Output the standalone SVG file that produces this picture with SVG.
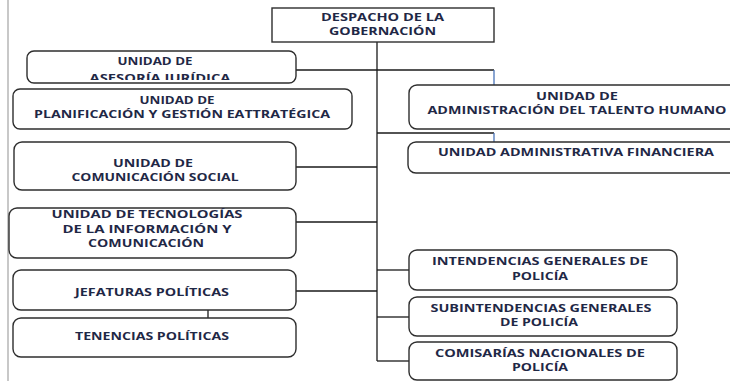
<svg xmlns="http://www.w3.org/2000/svg" width="730" height="381" viewBox="0 0 730 381">
<style>
.box{fill:#fff;stroke:#2e2e2e;stroke-width:1.4}
.t{font-family:"Open Sans","Liberation Sans",sans-serif;font-weight:bold;font-size:10px;fill:#1f2846;text-anchor:middle}
.c{stroke:#1a1a1a;stroke-width:1.3;fill:none}
.b{stroke:#4a74b8;stroke-width:1.3;fill:none}
</style>
<defs>
<clipPath id="clipAses"><rect x="27" y="51" width="269" height="29"/></clipPath>
</defs>
<rect x="0" y="0" width="730" height="381" fill="#fff"/>
<line x1="8" y1="0" x2="8" y2="381" stroke="#c8c8c8" stroke-width="2"/>
<g id="connectors">
<line class="c" x1="377" y1="42" x2="377" y2="361"/>
<polyline class="c" points="296,70 494,70"/>
<line class="b" x1="494" y1="70" x2="494" y2="85"/>
<polyline class="c" points="377,133 494,133"/>
<line class="b" x1="494" y1="133" x2="494" y2="142"/>
<line class="c" x1="296" y1="167" x2="377" y2="167"/>
<line class="c" x1="296" y1="222" x2="377" y2="222"/>
<line class="c" x1="296" y1="291" x2="377" y2="291"/>
<line class="c" x1="377" y1="270" x2="409" y2="270"/>
<line class="c" x1="377" y1="317" x2="409" y2="317"/>
<line class="c" x1="377" y1="361" x2="409" y2="361"/>
<line class="c" x1="208" y1="310" x2="208" y2="318"/>
</g>
<g id="despacho">
<rect class="box" x="272" y="8" width="222" height="34"/>
<text class="t" x="382.5" y="21" textLength="123" lengthAdjust="spacingAndGlyphs">DESPACHO DE LA</text>
<text class="t" x="382.5" y="35" textLength="107" lengthAdjust="spacingAndGlyphs">GOBERNACIÓN</text>
</g>
<g id="asesoria">
<rect class="box" x="27" y="51" width="269" height="32" rx="7"/>
<text class="t" x="155" y="65" textLength="75" lengthAdjust="spacingAndGlyphs">UNIDAD DE</text>
<text class="t" x="160" y="82" textLength="141" lengthAdjust="spacingAndGlyphs" clip-path="url(#clipAses)">ASESORÍA  JURÍDICA</text>
</g>
<g id="planificacion">
<rect class="box" x="13" y="89" width="339" height="40" rx="7"/>
<text class="t" x="177" y="104" textLength="75" lengthAdjust="spacingAndGlyphs">UNIDAD DE</text>
<text class="t" x="182" y="118" textLength="296" lengthAdjust="spacingAndGlyphs">PLANIFICACIÓN Y GESTIÓN  EATTRATÉGICA</text>
</g>
<g id="comunicacion">
<rect class="box" x="14" y="142" width="282" height="48" rx="8"/>
<text class="t" x="153" y="167" textLength="80" lengthAdjust="spacingAndGlyphs">UNIDAD DE</text>
<text class="t" x="155" y="181" textLength="167" lengthAdjust="spacingAndGlyphs">COMUNICACIÓN SOCIAL</text>
</g>
<g id="tecnologias">
<rect class="box" x="9" y="208" width="287" height="50" rx="8"/>
<text class="t" x="147" y="218" textLength="191" lengthAdjust="spacingAndGlyphs">UNIDAD DE  TECNOLOGÍAS</text>
<text class="t" x="147" y="233" textLength="169" lengthAdjust="spacingAndGlyphs">DE LA INFORMACIÓN Y</text>
<text class="t" x="146" y="247" textLength="116" lengthAdjust="spacingAndGlyphs">COMUNICACIÓN</text>
</g>
<g id="jefaturas">
<rect class="box" x="13" y="270" width="283" height="40" rx="8"/>
<text class="t" x="152" y="296" textLength="154" lengthAdjust="spacingAndGlyphs">JEFATURAS  POLÍTICAS</text>
</g>
<g id="tenencias">
<rect class="box" x="13" y="318" width="283" height="39" rx="8"/>
<text class="t" x="152" y="340" textLength="154" lengthAdjust="spacingAndGlyphs">TENENCIAS  POLÍTICAS</text>
</g>
<g id="talento">
<rect class="box" x="409" y="85" width="360" height="44" rx="8"/>
<text class="t" x="577" y="100" textLength="82" lengthAdjust="spacingAndGlyphs">UNIDAD DE</text>
<text class="t" x="577" y="114" textLength="299" lengthAdjust="spacingAndGlyphs">ADMINISTRACIÓN  DEL TALENTO  HUMANO</text>
</g>
<g id="financiera">
<rect class="box" x="408" y="142" width="360" height="31" rx="8"/>
<text class="t" x="576" y="156" textLength="276" lengthAdjust="spacingAndGlyphs">UNIDAD ADMINISTRATIVA  FINANCIERA</text>
</g>
<g id="intendencias">
<rect class="box" x="409" y="250" width="268" height="40" rx="8"/>
<text class="t" x="540" y="265" textLength="216" lengthAdjust="spacingAndGlyphs">INTENDENCIAS  GENERALES  DE</text>
<text class="t" x="540" y="280" textLength="56" lengthAdjust="spacingAndGlyphs">POLICÍA</text>
</g>
<g id="subintendencias">
<rect class="box" x="409" y="297" width="268" height="39" rx="8"/>
<text class="t" x="541" y="312" textLength="221" lengthAdjust="spacingAndGlyphs">SUBINTENDENCIAS  GENERALES</text>
<text class="t" x="539" y="326" textLength="78" lengthAdjust="spacingAndGlyphs">DE POLICÍA</text>
</g>
<g id="comisarias">
<rect class="box" x="409" y="342" width="268" height="38" rx="8"/>
<text class="t" x="540" y="357" textLength="210" lengthAdjust="spacingAndGlyphs">COMISARÍAS  NACIONALES  DE</text>
<text class="t" x="540" y="371" textLength="56" lengthAdjust="spacingAndGlyphs">POLICÍA</text>
</g>
</svg>
